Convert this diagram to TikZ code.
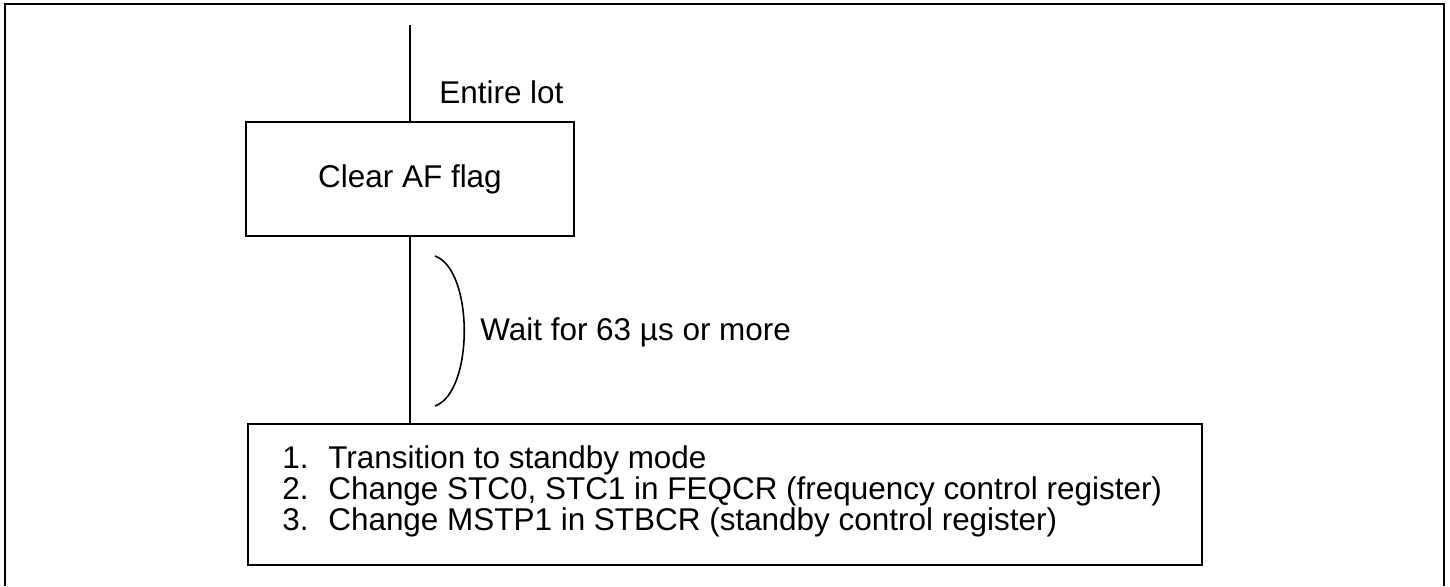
\documentclass[tikz,border=0pt]{standalone}
\usepackage{fontspec}
\setmainfont{Liberation Sans}
\usetikzlibrary{positioning}

\begin{document}
\begin{tikzpicture}[
  x=0.02cm, y=-0.02cm,
  every node/.style={font=\fontsize{17.9}{16.1}\selectfont},
  stepbox/.style={draw, line width=0.9pt, inner sep=0pt, align=center},
  wire/.style={line width=0.9pt},
  note/.style={inner sep=0pt, anchor=base west},
  frame/.style={line width=0.9pt}
]
  \useasboundingbox (0,0) rectangle (1450,586);
  \draw[frame] (5,586) -- (5,4) -- (1444,4) -- (1444,586);

  \node[stepbox, minimum width=6.56cm, minimum height=2.28cm] (clear) at (410,179) {Clear AF flag};
  \node[stepbox, minimum width=19.08cm, minimum height=2.82cm] (standby) at (725,494.5) {};
  \node[inner sep=0pt, anchor=north west, align=left] (steps) at (282,445)
    {\makebox[0.92cm][l]{1.}Transition to standby mode\\
     \makebox[0.92cm][l]{2.}Change STC0, STC1 in FEQCR (frequency control register)\\
     \makebox[0.92cm][l]{3.}Change MSTP1 in STBCR (standby control register)};

  \coordinate (entry) at (410,25);
  \draw[wire] (entry) -- (clear.north);
  \draw[wire] (clear.south) -- (clear.south |- standby.north);
  \node[note] (lot) at (439,103) {Entire lot};

  % wait bracket
  \coordinate (waitTop) at (435,256);
  \coordinate (waitBot) at (435,406);
  \draw[wire] (waitTop) .. controls (474,270) and (474,392) .. (waitBot);
  \node[note] (wait) at (480,340) {Wait for 63 µs or more};
\end{tikzpicture}
\end{document}
